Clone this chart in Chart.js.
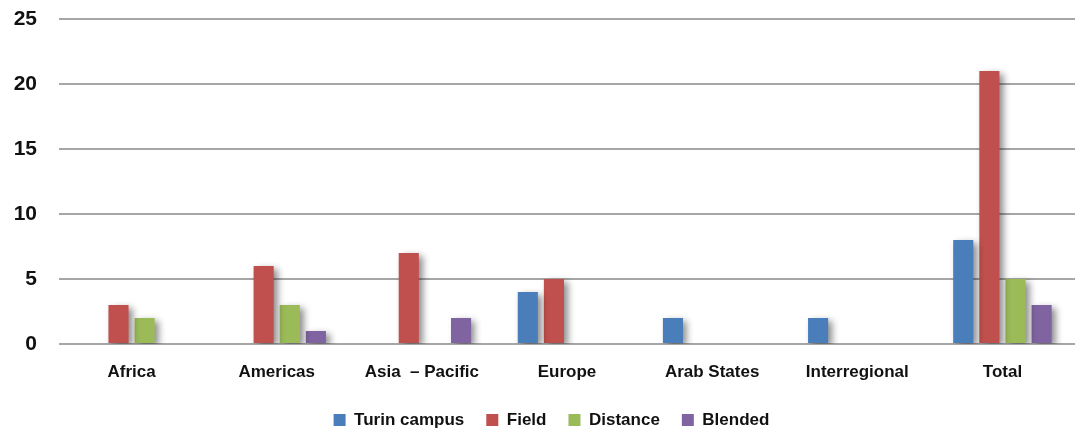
<!DOCTYPE html>
<html>
<head>
<meta charset="utf-8">
<script src="https://cdn.jsdelivr.net/npm/chart.js@4/dist/chart.umd.min.js"></script>
<style>
html,body{margin:0;padding:0;background:#fff;}
#wrap{width:1079px;height:432px;position:relative;}
</style>
</head>
<body>
<div id="wrap"><canvas id="c"></canvas></div>
<script>
const categories = ["Africa", "Americas", "Asia  \u2013 Pacific", "Europe", "Arab States", "Interregional", "Total"];
const turinCampus = [0, 0, 0, 4, 2, 2, 8];
const field = [3, 6, 7, 5, 0, 0, 21];
const distance = [2, 3, 0, 0, 0, 0, 5];
const blended = [0, 1, 2, 0, 0, 0, 3];
const yTicks = [0, 5, 10, 15, 20, 25];
const seriesColors = ['#4a7ebb', '#c0504d', '#9bbb59', '#8064a2'];

const FONT = "'Liberation Sans', Arial, sans-serif";
const LAYOUT = { plotTop: 19, plotBottom: 344, legendTextY: 420, legendShift: 14 };

const shadowPlugin = {
  id: 'barShadow',
  beforeDatasetsDraw(chart) {
    const ctx = chart.ctx;
    ctx.save();
    ctx.shadowColor = 'rgba(0,0,0,0.45)';
    ctx.shadowBlur = 7;
    ctx.shadowOffsetX = 4;
    ctx.shadowOffsetY = 3;
  },
  afterDatasetsDraw(chart) {
    chart.ctx.restore();
  }
};

const layoutPlugin = {
  id: 'fixedLayout',
  afterLayout(chart) {
    const a = chart.chartArea;
    a.top = LAYOUT.plotTop; a.bottom = LAYOUT.plotBottom; a.height = a.bottom - a.top;
    const y = chart.scales.y;
    y.top = a.top; y.bottom = a.bottom; y.height = a.height; y.configure();
    const x = chart.scales.x;
    const xh = x.height;
    x.top = a.bottom; x.bottom = a.bottom + xh; x.configure();
    const lg = chart.legend;
    if (lg) {
      const pad = lg.options.labels.padding;
      const fs = lg.options.labels.font.size;
      lg.top = LAYOUT.legendTextY - pad - fs / 2;
      lg.bottom = lg.top + lg.height;
      lg.left += LAYOUT.legendShift;
      lg.right += LAYOUT.legendShift;
      if (lg.adjustHitBoxes) lg.adjustHitBoxes();
    }
  }
};

new Chart(document.getElementById('c'), {
  type: 'bar',
  data: {
    labels: categories,
    datasets: [
      { label: 'Turin campus', data: turinCampus, backgroundColor: seriesColors[0] },
      { label: 'Field', data: field, backgroundColor: seriesColors[1] },
      { label: 'Distance', data: distance, backgroundColor: seriesColors[2] },
      { label: 'Blended', data: blended, backgroundColor: seriesColors[3] }
    ]
  },
  options: {
    responsive: true,
    maintainAspectRatio: false,
    animation: false,
    layout: { padding: { top: 0, right: 4, left: 0, bottom: 0 } },
    datasets: { bar: { categoryPercentage: 0.72, barPercentage: 0.77 } },
    plugins: {
      legend: {
        position: 'bottom',
        labels: {
          boxWidth: 12, boxHeight: 12, padding: 22,
          color: '#111',
          font: { family: FONT, size: 17, weight: 'bold' },
          generateLabels(chart) {
            return chart.data.datasets.map((ds, i) => ({
              text: ds.label, fillStyle: seriesColors[i], strokeStyle: seriesColors[i],
              lineWidth: 0, hidden: false, datasetIndex: i, fontColor: '#111'
            }));
          }
        }
      },
      tooltip: { enabled: false }
    },
    scales: {
      x: {
        grid: { display: false, drawTicks: false },
        border: { display: false },
        ticks: { color: '#111', padding: 18, maxRotation: 0, minRotation: 0, autoSkip: false,
                 font: { family: FONT, size: 17, weight: 'bold' } }
      },
      y: {
        min: 0, max: 25,
        afterBuildTicks(axis) { axis.ticks = yTicks.map(v => ({ value: v })); },
        afterFit(axis) { axis.width = 59; },
        grid: { color: '#a6a6a6', lineWidth: 2, drawTicks: false },
        border: { display: false },
        ticks: { color: '#111', padding: 22, font: { family: FONT, size: 21, weight: 'bold' } }
      }
    }
  },
  plugins: [shadowPlugin, layoutPlugin]
});
</script>
</body>
</html>
